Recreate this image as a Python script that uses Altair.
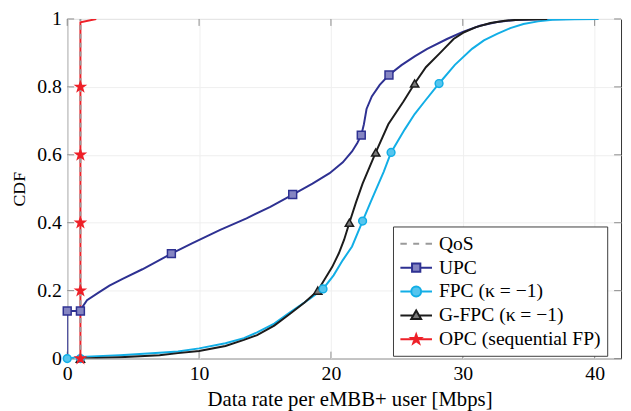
import altair as alt
import pandas as pd

FONT = "Liberation Serif"
W, H = 561, 344

X_TICKS = [0, 10, 20, 30, 40]
Y_TICKS = [0, 0.2, 0.4, 0.6, 0.8, 1.0]
X_DOMAIN = [0, 42]
Y_DOMAIN = [0, 1]

SERIES = ["QoS", "UPC", "FPC (κ = −1)", "G-FPC (κ = −1)", "OPC (sequential FP)"]
STROKES = ["#9a9a9a", "#2e3192", "#12aee6", "#1c1c1c", "#ee2028"]
FILLS = ["transparent", "#8585c2", "#55c5ee", "#7a7a7a", "#ee2028"]

# curves
QOS_X = [1, 1]
QOS_Y = [0, 1]

UPC_X = [0, 0, 1, 1.15, 1.5, 2.4, 3.2, 4.2, 5.7, 7.9, 9.5, 11.6, 13.6, 15.4, 17.1, 18.6, 19.9,
         20.9, 21.6, 22.0, 22.3, 22.5, 22.7, 23.1, 23.7, 24.4, 25.35, 26.35, 27.3, 28.8, 30.0,
         31.3, 32.6, 34.0, 36.0, 38.0]
UPC_Y = [0, 0.14, 0.14, 0.152, 0.172, 0.195, 0.215, 0.235, 0.263, 0.309, 0.34, 0.379, 0.413,
         0.447, 0.483, 0.515, 0.546, 0.578, 0.61, 0.635, 0.658, 0.69, 0.735, 0.772, 0.806,
         0.835, 0.864, 0.89, 0.912, 0.941, 0.962, 0.98, 0.991, 0.997, 0.999, 1.0]

FPC_X = [0, 1, 4, 7, 8.4, 10, 12, 13.4, 14.4, 15.7, 16.9, 18.4, 19.4, 20.2, 20.9, 21.6, 22.4,
         23.0, 23.4, 24.0, 24.56, 25.6, 26.35, 27.1, 28.2, 29.4, 30.7, 31.6, 32.6, 33.6, 34.6,
         35.7, 36.8, 38.5, 40.3]
FPC_Y = [0, 0.005, 0.01, 0.017, 0.021, 0.03, 0.045, 0.06, 0.077, 0.103, 0.136, 0.176, 0.205,
         0.245, 0.29, 0.33, 0.405, 0.46, 0.496, 0.55, 0.607, 0.675, 0.72, 0.757, 0.81, 0.865,
         0.912, 0.937, 0.956, 0.973, 0.985, 0.993, 0.998, 0.9995, 1.0]

GFPC_X = [1, 4, 7, 8.4, 10, 12, 13.4, 14.4, 15.7, 16.9, 18.0, 19.0, 20.1, 20.6, 21.0, 21.4,
          21.9, 22.4, 23.4, 24.35, 25.5, 26.35, 27.2, 28.3, 29.3, 30.1, 31.0, 32.1, 33.2,
          34.3, 36.4]
GFPC_Y = [0, 0.004, 0.01, 0.016, 0.022, 0.037, 0.055, 0.069, 0.097, 0.132, 0.165, 0.2, 0.27,
          0.31, 0.35, 0.4, 0.46, 0.515, 0.607, 0.69, 0.757, 0.81, 0.858, 0.901, 0.941, 0.961,
          0.976, 0.988, 0.995, 0.998, 1.0]

OPC_X = [1, 1, 2.2]
OPC_Y = [0, 0.99, 1.0]

# markers
UPC_MX = [0, 1, 7.9, 17.1, 22.3, 24.4]
UPC_MY = [0.14, 0.14, 0.309, 0.483, 0.658, 0.835]
FPC_MX = [0, 1, 19.4, 22.4, 24.56, 28.2]
FPC_MY = [0, 0, 0.205, 0.405, 0.607, 0.81]
GFPC_MX = [1, 19.0, 21.4, 23.4, 26.35]
GFPC_MY = [0, 0.2, 0.4, 0.607, 0.81]
OPC_MX = [1, 1, 1, 1, 1]
OPC_MY = [0, 0.2, 0.4, 0.6, 0.8]

STAR = ("M0,-1L0.24,-0.33L0.95,-0.31L0.38,0.12L0.59,0.81L0,0.4L-0.59,0.81"
        "L-0.38,0.12L-0.95,-0.31L-0.24,-0.33Z")

# legend glyphs: 1 unit = 10 px (symbolSize 400)
LEG_PATHS = [
    "M-1.6,0L-0.95,0M-0.3,0L0.3,0M0.95,0L1.6,0",
    "M-1.6,0L-0.42,0M0.42,0L1.6,0M-0.42,-0.42L0.42,-0.42L0.42,0.42L-0.42,0.42Z",
    "M-1.6,0L-0.5,0M0.5,0L1.6,0M-0.5,0A0.5,0.5,0,1,0,0.5,0A0.5,0.5,0,1,0,-0.5,0Z",
    "M-1.6,0L-0.28,0M0.28,0L1.6,0M0,-0.5L0.5,0.36L-0.5,0.36Z",
    "M-1.6,0L1.6,0M0,-0.5L0.12,-0.16L0.48,-0.15L0.19,0.06L0.3,0.4L0,0.2L-0.3,0.4"
    "L-0.19,0.06L-0.48,-0.15L-0.12,-0.16Z",
]

xaxis = alt.Axis(values=X_TICKS, format="d", title="Data rate per eMBB+ user [Mbps]",
                 titleFont=FONT, titleFontSize=21, titleFontWeight="normal", titleColor="black",
                 labelFont=FONT, labelFontSize=20, labelColor="black", labelPadding=5.5,
                 ticks=False, domain=False, grid=True, gridColor="#efefef", gridWidth=1,
                 labelFlush=False, labelOverlap=False, titleX=286, titleY=48,
                 titleBaseline="alphabetic")
yaxis = alt.Axis(values=Y_TICKS, format=".1~f", title="CDF",
                 titleFont=FONT, titleFontSize=18, titleFontWeight="normal", titleColor="black",
                 labelFont=FONT, labelFontSize=20, labelColor="black", labelPadding=6,
                 ticks=False, domain=False, grid=True, gridColor="#efefef", gridWidth=1,
                 labelFlush=False, labelOverlap=False, titleX=-43, titleY=172,
                 titleBaseline="alphabetic")
xscale = alt.Scale(domain=X_DOMAIN, nice=False, zero=False)
yscale = alt.Scale(domain=Y_DOMAIN, nice=False, zero=False)


def X(f="x"):
    return alt.X(f"{f}:Q", scale=xscale, axis=xaxis)


def Y(f="y"):
    return alt.Y(f"{f}:Q", scale=yscale, axis=yaxis)


def line(xs, ys, color, **kw):
    df = pd.DataFrame({"x": xs, "y": ys, "o": list(range(len(xs)))})
    return alt.Chart(df).mark_line(color=color, strokeWidth=2, clip=True, **kw).encode(
        x=X(), y=Y(), order="o:Q")


def pts(xs, ys, shape, size, fill, stroke):
    df = pd.DataFrame({"x": xs, "y": ys})
    return alt.Chart(df).mark_point(shape=shape, size=size, filled=True, fill=fill,
                                    stroke=stroke, strokeWidth=1.5, opacity=1).encode(
        x=X(), y=Y())


xt = pd.DataFrame({"t": X_TICKS})
yt = pd.DataFrame({"t": Y_TICKS})
tick_col = "#8a8a8a"
ticks = [
    alt.Chart(xt).mark_rule(color=tick_col).encode(x=X("t"), y=alt.value(H), y2=alt.value(H - 7)),
    alt.Chart(xt).mark_rule(color=tick_col).encode(x=X("t"), y=alt.value(0), y2=alt.value(7)),
    alt.Chart(yt).mark_rule(color=tick_col).encode(y=Y("t"), x=alt.value(0), x2=alt.value(7)),
    alt.Chart(yt).mark_rule(color=tick_col).encode(y=Y("t"), x=alt.value(W), x2=alt.value(W - 7)),
]

lines = [
    line(UPC_X, UPC_Y, STROKES[1]),
    line(FPC_X, FPC_Y, STROKES[2]),
    line(GFPC_X, GFPC_Y, STROKES[3]),
    line(OPC_X, OPC_Y, STROKES[4]),
    line(QOS_X, QOS_Y, STROKES[0], strokeDash=[5, 4]),
]

markers = [
    pts(UPC_MX, UPC_MY, "square", 64, FILLS[1], STROKES[1]),
    pts(GFPC_MX, GFPC_MY, "triangle-up", 70, FILLS[3], STROKES[3]),
    pts(FPC_MX, FPC_MY, "circle", 62, FILLS[2], STROKES[2]),
    pts(OPC_MX, OPC_MY, STAR, 100, FILLS[4], STROKES[4]),
]

LEG_X, LEG_Y = 330, 210.2
leg_df = pd.DataFrame({"series": SERIES, "x": [-50] * 5, "y": [-1] * 5})
legend = alt.Legend(title=None, orient="none", legendX=LEG_X, legendY=LEG_Y,
                    symbolFillColor="white")
leg_layer = alt.Chart(leg_df).mark_point(filled=True, opacity=1, clip=True).encode(
    x=X(), y=Y(),
    shape=alt.Shape("series:N", scale=alt.Scale(domain=SERIES, range=LEG_PATHS), legend=legend),
    stroke=alt.Stroke("series:N", scale=alt.Scale(domain=SERIES, range=STROKES), legend=legend),
    fill=alt.Fill("series:N", scale=alt.Scale(domain=SERIES, range=FILLS), legend=legend),
)

chart = alt.layer(*ticks, *lines, *markers, leg_layer).properties(
    width=W, height=H,
    padding={"left": 60, "top": 8.5, "right": 2, "bottom": 51},
    autosize=alt.AutoSizeParams(type="none"),
).configure(font=FONT).configure_view(
    stroke="#333333", strokeWidth=1
).configure_legend(
    orient="none", legendX=LEG_X, legendY=LEG_Y,
    labelFont=FONT, labelFontSize=19.8, labelColor="black", labelLimit=400,
    labelOffset=12, symbolOffset=6, rowPadding=3.2, padding=6.5,
    strokeColor="#3c3c3c", fillColor="white",
    symbolSize=400, symbolStrokeWidth=2, symbolFillColor="white", cornerRadius=0,
)

chart.save("out.html", embed_options={"renderer": "svg", "actions": False})
